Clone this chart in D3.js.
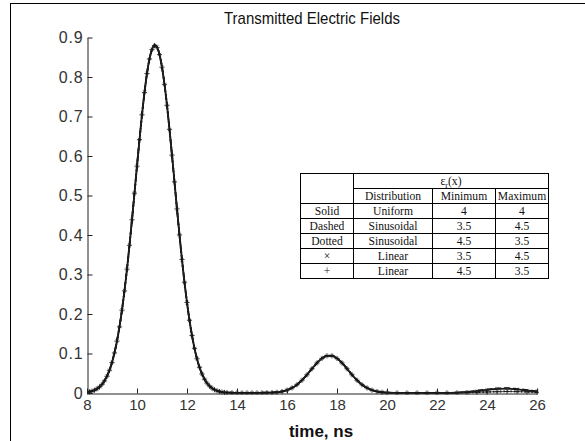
<!DOCTYPE html>
<html>
<head>
<meta charset="utf-8">
<script src="https://cdn.jsdelivr.net/npm/d3@7"></script>
<style>
  html, body { margin: 0; padding: 0; background: #fff; }
  svg { display: block; }
</style>
</head>
<body>
<svg id="chart" width="585" height="441"></svg>
<script>
// Sample times (ns), denser where the pulses are steep
const timeNs = [
  8.0, 8.1, 8.2, 8.3, 8.4, 8.5, 8.6, 8.7, 8.8, 8.9,
  9.0, 9.1, 9.2, 9.3, 9.4, 9.5, 9.6, 9.7, 9.8, 9.9,
  10.0, 10.1, 10.2, 10.3, 10.4, 10.5, 10.6, 10.7, 10.8, 10.9,
  11.0, 11.1, 11.2, 11.3, 11.4, 11.5, 11.6, 11.7, 11.8, 11.9,
  12.0, 12.1, 12.2, 12.3, 12.4, 12.5, 12.6, 12.7, 12.8, 12.9,
  13.0, 13.1, 13.2, 13.3, 13.4, 13.5, 13.6,
  13.8, 14.0, 14.2, 14.4, 14.6, 14.8, 15.0, 15.2, 15.4,
  15.6, 15.8, 16.0, 16.2, 16.4, 16.6, 16.8, 17.0, 17.2, 17.4, 17.6, 17.8,
  18.0, 18.2, 18.4, 18.6, 18.8, 19.0, 19.2, 19.4, 19.6, 19.8, 20.0,
  20.4, 20.8, 21.2, 21.6, 22.0, 22.4, 22.8, 23.2, 23.6, 24.0, 24.4, 24.8, 25.2, 25.6, 26.0
];

// Transmitted field for each permittivity profile
const solidUniform = [
  0.0020, 0.0031, 0.0048, 0.0072, 0.0106, 0.0153, 0.0219, 0.0308, 0.0425, 0.0578,
  0.0774, 0.1018, 0.1318, 0.1678, 0.2102, 0.2590, 0.3139, 0.3743, 0.4389, 0.5064,
  0.5747, 0.6416, 0.7046, 0.7612, 0.8090, 0.8460, 0.8696, 0.8800, 0.8754, 0.8569,
  0.8250, 0.7815, 0.7282, 0.6674, 0.6018, 0.5340, 0.4657, 0.3997, 0.3374, 0.2802,
  0.2290, 0.1840, 0.1455, 0.1131, 0.0865, 0.0651, 0.0482, 0.0351, 0.0251, 0.0177,
  0.0123, 0.0084, 0.0056, 0.0037, 0.0024, 0.0015, 0.0010,
  0.0006, 0.0004, 0.0003, 0.0003, 0.0003, 0.0004, 0.0005, 0.0008, 0.0012,
  0.0019, 0.0038, 0.0073, 0.0129, 0.0211, 0.0324, 0.0462, 0.0615, 0.0761, 0.0877, 0.0942, 0.0942,
  0.0877, 0.0761, 0.0615, 0.0462, 0.0324, 0.0211, 0.0129, 0.0073, 0.0038, 0.0019, 0.0009,
  0.0003, 0.0001, 0.0001, 0.0001, 0.0001, 0.0003, 0.0009, 0.0023, 0.0048, 0.0078, 0.0103, 0.0110, 0.0093, 0.0063, 0.0034
];
const dashedSinusoidal = [
  0.0021, 0.0032, 0.0049, 0.0073, 0.0108, 0.0155, 0.0222, 0.0311, 0.0429, 0.0582,
  0.0779, 0.1024, 0.1325, 0.1686, 0.2110, 0.2598, 0.3147, 0.3751, 0.4397, 0.5071,
  0.5754, 0.6423, 0.7052, 0.7618, 0.8096, 0.8466, 0.8702, 0.8812, 0.8762, 0.8574,
  0.8252, 0.7815, 0.7280, 0.6670, 0.6012, 0.5333, 0.4650, 0.3990, 0.3367, 0.2796,
  0.2285, 0.1836, 0.1452, 0.1129, 0.0864, 0.0650, 0.0482, 0.0351, 0.0252, 0.0178,
  0.0124, 0.0085, 0.0057, 0.0038, 0.0025, 0.0016, 0.0011,
  0.0007, 0.0005, 0.0004, 0.0004, 0.0004, 0.0005, 0.0006, 0.0009, 0.0013,
  0.0020, 0.0039, 0.0074, 0.0131, 0.0213, 0.0327, 0.0465, 0.0618, 0.0764, 0.0880, 0.0946, 0.0946,
  0.0881, 0.0764, 0.0618, 0.0464, 0.0326, 0.0213, 0.0131, 0.0075, 0.0040, 0.0021, 0.0011,
  0.0004, 0.0002, 0.0001, 0.0001, 0.0002, 0.0004, 0.0011, 0.0027, 0.0055, 0.0088, 0.0114, 0.0121, 0.0104, 0.0072, 0.0040
];
const dottedSinusoidal = [
  0.0019, 0.0030, 0.0047, 0.0071, 0.0105, 0.0151, 0.0217, 0.0305, 0.0422, 0.0574,
  0.0769, 0.1012, 0.1311, 0.1670, 0.2094, 0.2582, 0.3131, 0.3735, 0.4381, 0.5057,
  0.5740, 0.6410, 0.7040, 0.7606, 0.8084, 0.8454, 0.8690, 0.8790, 0.8746, 0.8564,
  0.8248, 0.7815, 0.7284, 0.6678, 0.6024, 0.5347, 0.4664, 0.4004, 0.3381, 0.2808,
  0.2295, 0.1844, 0.1458, 0.1133, 0.0866, 0.0652, 0.0482, 0.0351, 0.0250, 0.0176,
  0.0122, 0.0083, 0.0055, 0.0036, 0.0023, 0.0014, 0.0009,
  0.0005, 0.0003, 0.0002, 0.0002, 0.0002, 0.0003, 0.0004, 0.0007, 0.0011,
  0.0018, 0.0037, 0.0072, 0.0127, 0.0209, 0.0321, 0.0459, 0.0612, 0.0758, 0.0874, 0.0938, 0.0938,
  0.0873, 0.0758, 0.0612, 0.0460, 0.0322, 0.0209, 0.0127, 0.0071, 0.0036, 0.0017, 0.0008,
  0.0003, 0.0001, 0.0001, 0.0001, 0.0001, 0.0002, 0.0005, 0.0011, 0.0019, 0.0028, 0.0036, 0.0040, 0.0038, 0.0031, 0.0022
];
const crossLinear = [
  0.0021, 0.0032, 0.0049, 0.0073, 0.0107, 0.0154, 0.0221, 0.0310, 0.0427, 0.0580,
  0.0777, 0.1021, 0.1322, 0.1682, 0.2106, 0.2594, 0.3143, 0.3747, 0.4393, 0.5068,
  0.5751, 0.6420, 0.7049, 0.7615, 0.8093, 0.8463, 0.8699, 0.8806, 0.8758, 0.8571,
  0.8251, 0.7815, 0.7281, 0.6672, 0.6015, 0.5336, 0.4653, 0.3993, 0.3370, 0.2799,
  0.2287, 0.1838, 0.1453, 0.1130, 0.0865, 0.0651, 0.0482, 0.0351, 0.0251, 0.0177,
  0.0123, 0.0085, 0.0057, 0.0038, 0.0025, 0.0016, 0.0010,
  0.0006, 0.0005, 0.0004, 0.0003, 0.0004, 0.0004, 0.0006, 0.0009, 0.0012,
  0.0019, 0.0038, 0.0074, 0.0130, 0.0212, 0.0325, 0.0463, 0.0617, 0.0762, 0.0879, 0.0944, 0.0944,
  0.0879, 0.0762, 0.0616, 0.0463, 0.0325, 0.0212, 0.0130, 0.0074, 0.0039, 0.0020, 0.0010,
  0.0003, 0.0001, 0.0001, 0.0001, 0.0002, 0.0003, 0.0010, 0.0025, 0.0050, 0.0082, 0.0107, 0.0114, 0.0097, 0.0066, 0.0037
];
const plusLinear = [
  0.0019, 0.0030, 0.0047, 0.0071, 0.0105, 0.0152, 0.0218, 0.0306, 0.0423, 0.0576,
  0.0771, 0.1015, 0.1314, 0.1674, 0.2098, 0.2586, 0.3135, 0.3739, 0.4385, 0.5060,
  0.5743, 0.6413, 0.7043, 0.7609, 0.8087, 0.8457, 0.8693, 0.8795, 0.8750, 0.8566,
  0.8249, 0.7815, 0.7283, 0.6676, 0.6021, 0.5344, 0.4661, 0.4001, 0.3378, 0.2805,
  0.2292, 0.1842, 0.1456, 0.1132, 0.0866, 0.0651, 0.0482, 0.0351, 0.0250, 0.0176,
  0.0122, 0.0083, 0.0055, 0.0036, 0.0023, 0.0014, 0.0009,
  0.0005, 0.0003, 0.0003, 0.0002, 0.0003, 0.0003, 0.0004, 0.0007, 0.0011,
  0.0018, 0.0037, 0.0072, 0.0128, 0.0210, 0.0323, 0.0461, 0.0613, 0.0760, 0.0875, 0.0940, 0.0940,
  0.0875, 0.0760, 0.0614, 0.0461, 0.0323, 0.0210, 0.0128, 0.0072, 0.0037, 0.0018, 0.0008,
  0.0002, 0.0001, 0.0001, 0.0001, 0.0001, 0.0002, 0.0004, 0.0010, 0.0017, 0.0026, 0.0033, 0.0037, 0.0035, 0.0029, 0.0020
];

const xTicks = [8, 10, 12, 14, 16, 18, 20, 22, 24, 26];
const yTicks = [0, 0.1, 0.2, 0.3, 0.4, 0.5, 0.6, 0.7, 0.8, 0.9];
const yTickLabels = ["0", "0.1", "0.2", "0.3", "0.4", "0.5", "0.6", "0.7", "0.8", "0.9"];

// Table of permittivity profiles
const tableHeader = ["Distribution", "Minimum", "Maximum"];
const tableStyles = ["Solid", "Dashed", "Dotted", "\u00d7", "+"];
const tableDistributions = ["Uniform", "Sinusoidal", "Sinusoidal", "Linear", "Linear"];
const tableMinimum = ["4", "3.5", "4.5", "3.5", "4.5"];
const tableMaximum = ["4", "4.5", "3.5", "4.5", "3.5"];

const svg = d3.select("#chart");

// Outer frame
svg.append("rect")
  .attr("x", 10.5).attr("y", 3.5)
  .attr("width", 700).attr("height", 600)
  .attr("fill", "#fff").attr("stroke", "#000").attr("stroke-width", 1);

const x = d3.scaleLinear().domain([8, 26]).range([87, 537]);
const y = d3.scaleLinear().domain([0, 0.9]).range([393, 37.5]);

svg.append("defs").append("clipPath").attr("id", "plotClip")
  .append("rect").attr("x", 87).attr("y", 30).attr("width", 452).attr("height", 365);

// Curves
const lineGen = d3.line()
  .x((d, i) => x(timeNs[i]))
  .y(d => y(d))
  .curve(d3.curveMonotoneX);

const plot = svg.append("g").attr("clip-path", "url(#plotClip)");

const lineSeries = [
  { values: solidUniform, dash: null },
  { values: dashedSinusoidal, dash: "6,3" },
  { values: dottedSinusoidal, dash: "1.5,2" }
];
lineSeries.forEach(s => {
  plot.append("path")
    .attr("d", lineGen(s.values))
    .attr("fill", "none")
    .attr("stroke", "#111")
    .attr("stroke-width", 1.8)
    .attr("stroke-dasharray", s.dash);
});
plot.append("path").attr("d", lineGen(crossLinear))
  .attr("fill", "none").attr("stroke", "#222").attr("stroke-width", 0.8);
plot.append("path").attr("d", lineGen(plusLinear))
  .attr("fill", "none").attr("stroke", "#222").attr("stroke-width", 0.8);

// Markers
const mx = 1.6, mp = 2.6;
plot.append("g").selectAll("path").data(crossLinear).join("path")
  .attr("transform", (d, i) => `translate(${x(timeNs[i])},${y(d)})`)
  .attr("d", `M${-mx},${-mx}L${mx},${mx}M${-mx},${mx}L${mx},${-mx}`)
  .attr("stroke", "#333").attr("stroke-width", 0.6).attr("fill", "none");
plot.append("g").selectAll("path").data(plusLinear).join("path")
  .attr("transform", (d, i) => `translate(${x(timeNs[i])},${y(d)})`)
  .attr("d", `M${-mp},0L${mp},0M0,${-mp}L0,${mp}`)
  .attr("stroke", "#111").attr("stroke-width", 0.8).attr("fill", "none");

// Axes
const tickFont = "Liberation Sans, Arial, sans-serif";
const xAxis = svg.append("g").attr("transform", "translate(0,393.5)")
  .call(d3.axisBottom(x).tickValues(xTicks).tickFormat(d3.format("d"))
    .tickSize(-5).tickSizeOuter(0).tickPadding(6));
const yAxis = svg.append("g").attr("transform", "translate(87.5,0)")
  .call(d3.axisLeft(y).tickValues(yTicks).tickFormat((d, i) => yTickLabels[i])
    .tickSize(-5).tickSizeOuter(0).tickPadding(4));
[xAxis, yAxis].forEach(a => {
  a.select(".domain").attr("stroke", "#222");
  a.selectAll(".tick line").attr("stroke", "#222");
  a.selectAll(".tick text")
    .attr("fill", "#333")
    .style("font-family", tickFont)
    .style("font-size", "15px");
});
// Slightly wider spacing between the characters of the value labels
yAxis.selectAll(".tick text").style("font-size", "16px").style("letter-spacing", "0.8px");

// Title and axis label
svg.append("text")
  .attr("x", 312).attr("y", 24)
  .attr("text-anchor", "middle")
  .attr("textLength", 176).attr("lengthAdjust", "spacingAndGlyphs")
  .style("font-family", tickFont).style("font-size", "17px").attr("fill", "#111")
  .text("Transmitted Electric Fields");
svg.append("text")
  .attr("x", 321).attr("y", 437)
  .attr("text-anchor", "middle")
  .style("font-family", tickFont).style("font-size", "17px").style("font-weight", "bold")
  .attr("fill", "#111")
  .text("time, ns");

// Profile table
const colX = [300.5, 353.5, 432.5, 495.5, 548.5];
const rowY = [173.5, 188.5, 203.5, 218.5, 233.5, 248.5, 263.5, 278.5];
const tbl = svg.append("g").style("font-family", "Liberation Serif, Times New Roman, serif")
  .style("font-size", "11.6px").attr("fill", "#111");

tbl.append("rect")
  .attr("x", colX[0]).attr("y", rowY[0])
  .attr("width", colX[4] - colX[0]).attr("height", rowY[7] - rowY[0])
  .attr("fill", "#fff").attr("stroke", "#000");

// Horizontal rules
tbl.append("line").attr("x1", colX[1]).attr("x2", colX[4])
  .attr("y1", rowY[1]).attr("y2", rowY[1]).attr("stroke", "#000");
for (let r = 2; r < 7; r++) {
  tbl.append("line").attr("x1", colX[0]).attr("x2", colX[4])
    .attr("y1", rowY[r]).attr("y2", rowY[r]).attr("stroke", "#000");
}
// Vertical rules
tbl.append("line").attr("x1", colX[1]).attr("x2", colX[1])
  .attr("y1", rowY[0]).attr("y2", rowY[7]).attr("stroke", "#000");
[2, 3].forEach(c => {
  tbl.append("line").attr("x1", colX[c]).attr("x2", colX[c])
    .attr("y1", rowY[1]).attr("y2", rowY[7]).attr("stroke", "#000");
});

const cellText = (c, r, str) => tbl.append("text")
  .attr("x", (colX[c] + colX[c + 1]) / 2)
  .attr("y", (rowY[r] + rowY[r + 1]) / 2 + 4.3)
  .attr("text-anchor", "middle")
  .text(str);

// Merged header: permittivity symbol with subscript
const eps = tbl.append("text")
  .attr("x", (colX[1] + colX[4]) / 2)
  .attr("y", (rowY[0] + rowY[1]) / 2 + 4)
  .attr("text-anchor", "middle");
eps.append("tspan").text("\u03b5");
eps.append("tspan").attr("dy", 2.5).style("font-size", "8px").text("r");
eps.append("tspan").attr("dy", -2.5).text("(x)");

tableHeader.forEach((h, i) => cellText(i + 1, 1, h));
tableStyles.forEach((s, i) => {
  cellText(0, i + 2, s);
  cellText(1, i + 2, tableDistributions[i]);
  cellText(2, i + 2, tableMinimum[i]);
  cellText(3, i + 2, tableMaximum[i]);
});
</script>
</body>
</html>
